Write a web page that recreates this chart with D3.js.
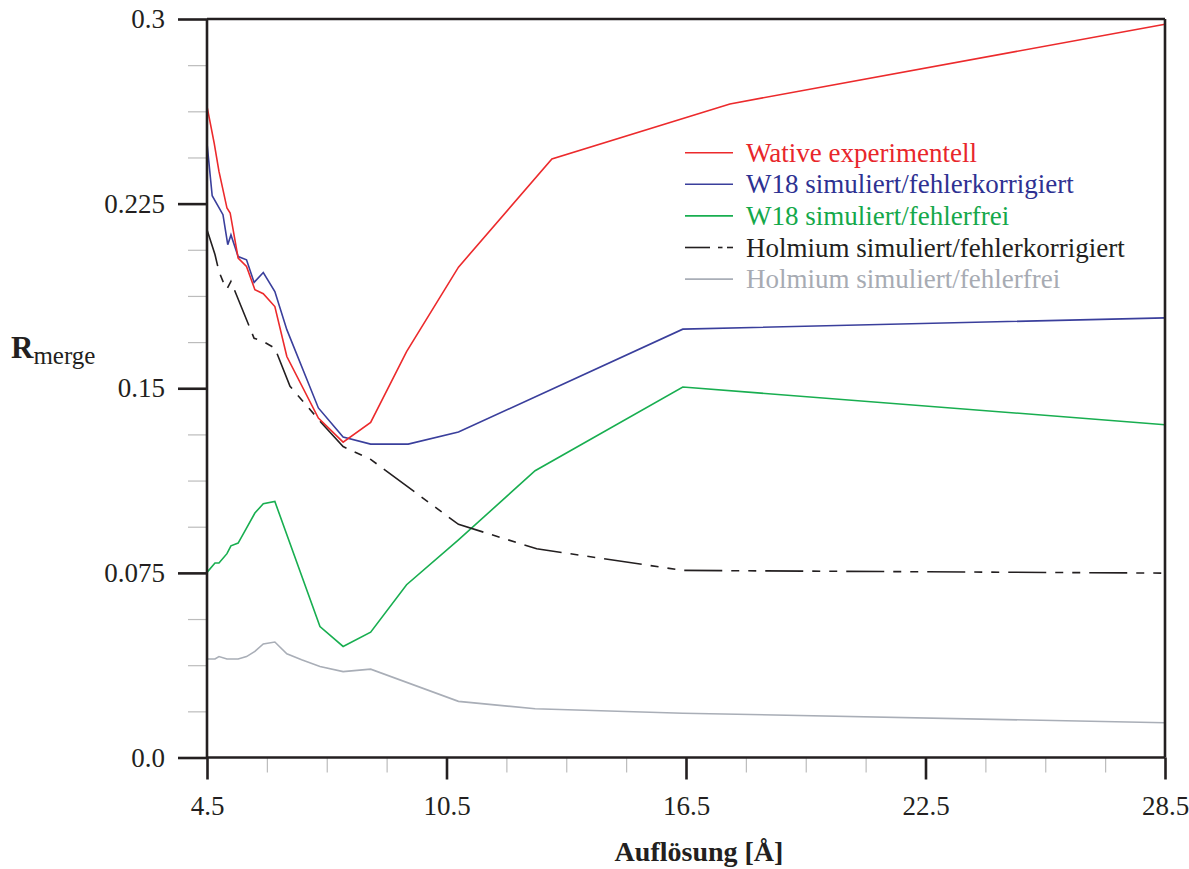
<!DOCTYPE html>
<html>
<head>
<meta charset="utf-8">
<script src="https://cdn.jsdelivr.net/npm/d3@7"></script>
<style>
  html, body { margin: 0; padding: 0; background: #fff; }
  svg { display: block; }
  text { font-family: "Liberation Serif", "Times New Roman", serif; fill: #231f20; }
</style>
</head>
<body>
<svg id="chart" width="1189" height="869"></svg>
<script>
// Rmerge against resolution shell (Å)
const wativeX = [4.5, 4.68, 4.8, 5.0, 5.08, 5.28, 5.49, 5.7, 5.91, 6.2, 6.5, 7.29, 7.91, 8.6, 9.5, 10.8, 13.14, 17.6, 28.5];
const wativeY = [0.2645, 0.2496, 0.2381, 0.2232, 0.2212, 0.2029, 0.1995, 0.1900, 0.1884, 0.1832, 0.1629, 0.1379, 0.1281, 0.1361, 0.1649, 0.1992, 0.2431, 0.2655, 0.2979];

const w18KorrX = [4.5, 4.63, 4.9, 5.02, 5.1, 5.28, 5.49, 5.68, 5.91, 6.2, 6.5, 7.29, 7.91, 8.6, 9.54, 10.8, 16.42, 28.5];
const w18KorrY = [0.2496, 0.2282, 0.2205, 0.2083, 0.2123, 0.2035, 0.2022, 0.1930, 0.1970, 0.1893, 0.1738, 0.1420, 0.1302, 0.1273, 0.1273, 0.1322, 0.1740, 0.1786];

const w18FreiX = [4.5, 4.7, 4.8, 5.0, 5.1, 5.28, 5.49, 5.7, 5.91, 6.2, 7.33, 7.91, 8.6, 9.5, 10.8, 12.72, 16.42, 28.5];
const w18FreiY = [0.0752, 0.0790, 0.0790, 0.0828, 0.0860, 0.0871, 0.0932, 0.0993, 0.1031, 0.1040, 0.0532, 0.0451, 0.0509, 0.0702, 0.0884, 0.1165, 0.1505, 0.1352];

const holKorrX = [4.5, 4.7, 4.8, 4.9, 5.0, 5.1, 5.68, 5.91, 6.2, 6.58, 7.37, 7.91, 8.6, 10.8, 12.76, 16.42, 28.5];
const holKorrY = [0.2144, 0.2043, 0.1974, 0.1934, 0.1903, 0.1934, 0.1703, 0.1690, 0.1663, 0.1508, 0.1359, 0.1263, 0.1211, 0.0947, 0.0848, 0.0760, 0.0749];

const holFreiX = [4.5, 4.7, 4.8, 5.0, 5.28, 5.49, 5.7, 5.91, 6.2, 6.5, 6.87, 7.33, 7.91, 8.6, 10.8, 12.72, 16.42, 28.5];
const holFreiY = [0.0400, 0.0400, 0.0410, 0.0400, 0.0400, 0.0410, 0.0431, 0.0461, 0.0469, 0.0421, 0.0397, 0.0370, 0.0349, 0.0359, 0.0228, 0.0198, 0.0180, 0.0141];

const seriesNames = [
  "Wative experimentell",
  "W18 simuliert/fehlerkorrigiert",
  "W18 simuliert/fehlerfrei",
  "Holmium simuliert/fehlerkorrigiert",
  "Holmium simuliert/fehlerfrei"
];

const xTickValues = [4.5, 10.5, 16.5, 22.5, 28.5];
const xTickLabels = ["4.5", "10.5", "16.5", "22.5", "28.5"];
const yTickValues = [0, 0.075, 0.15, 0.225, 0.3];
const yTickLabels = ["0.0", "0.075", "0.15", "0.225", "0.3"];
const xMinorTicks = [6, 7.5, 9, 12, 13.5, 15, 18, 19.5, 21, 24, 25.5, 27];
const yMinorTicks = [0.01875, 0.0375, 0.05625, 0.09375, 0.1125, 0.13125, 0.16875, 0.1875, 0.20625, 0.24375, 0.2625, 0.28125];

const xLabel = "Auflösung [Å]";

// ---- layout
const plotLeft = 207, plotRight = 1165, plotTop = 19, plotBottom = 757.5;

const svg = d3.select("#chart");
const x = d3.scaleLinear().domain([4.5, 28.5]).range([plotLeft, plotRight]);
const y = d3.scaleLinear().domain([0, 0.3]).range([plotBottom, plotTop]);

const series = [
  { name: seriesNames[0], xs: wativeX, ys: wativeY, color: "#ec2a2c", text: "#e8262b", dash: null },
  { name: seriesNames[1], xs: w18KorrX, ys: w18KorrY, color: "#3a3f9c", text: "#2e3192", dash: null },
  { name: seriesNames[2], xs: w18FreiX, ys: w18FreiY, color: "#18ae50", text: "#14a84a", dash: null },
  { name: seriesNames[3], xs: holKorrX, ys: holKorrY, color: "#231f20", text: "#231f20", dash: "38,9,8,9,8,9" },
  { name: seriesNames[4], xs: holFreiX, ys: holFreiY, color: "#a9aeb7", text: "#a7abb3", dash: null }
];

// ---- minor ticks (gray)
const xMinorAxis = d3.axisBottom(x).tickValues(xMinorTicks).tickSize(15).tickFormat("");
const gxm = svg.append("g").attr("transform", `translate(0,${plotBottom})`).call(xMinorAxis);
gxm.select(".domain").remove();
gxm.selectAll(".tick line").attr("stroke", "#bcbcbc").attr("stroke-width", 1.2);

const yMinorAxis = d3.axisLeft(y).tickValues(yMinorTicks).tickSize(19).tickFormat("");
const gym = svg.append("g").attr("transform", `translate(${plotLeft},0)`).call(yMinorAxis);
gym.select(".domain").remove();
gym.selectAll(".tick line").attr("stroke", "#bcbcbc").attr("stroke-width", 1.2);

// ---- data lines
const line = d3.line().x(d => x(d[0])).y(d => y(d[1]));
const lineOrder = [4, 2, 3, 1, 0];
lineOrder.forEach(i => {
  const s = series[i];
  const pts = s.xs.map((v, k) => [v, s.ys[k]]);
  svg.append("path")
    .attr("d", line(pts))
    .attr("fill", "none")
    .attr("stroke", s.color)
    .attr("stroke-width", 1.6)
    .attr("stroke-linejoin", "miter")
    .attr("stroke-dasharray", s.dash);
});

// ---- major axes
const xAxis = d3.axisBottom(x).tickValues(xTickValues).tickSize(22).tickPadding(16)
  .tickFormat((d, i) => xTickLabels[i]);
const gx = svg.append("g").attr("transform", `translate(0,${plotBottom})`).call(xAxis);
gx.select(".domain").remove();
gx.selectAll(".tick line").attr("stroke", "#231f20").attr("stroke-width", 2.6);
gx.selectAll(".tick text").attr("font-size", 27).attr("font-family", null).attr("fill", "#231f20");

const yAxis = d3.axisLeft(y).tickValues(yTickValues).tickSize(29).tickPadding(13)
  .tickFormat((d, i) => yTickLabels[i]);
const gy = svg.append("g").attr("transform", `translate(${plotLeft},0)`).call(yAxis);
gy.select(".domain").remove();
gy.selectAll(".tick line").attr("stroke", "#231f20").attr("stroke-width", 2.6);
gy.selectAll(".tick text").attr("font-size", 27).attr("font-family", null).attr("fill", "#231f20");

// frame: left axis, bottom axis, top and right border
const frame = svg.append("g").attr("stroke", "#231f20").attr("stroke-width", 2.6).attr("fill", "none");
frame.append("line").attr("x1", plotLeft).attr("x2", plotLeft).attr("y1", plotTop).attr("y2", plotBottom);
frame.append("line").attr("x1", plotLeft).attr("x2", plotRight).attr("y1", plotBottom).attr("y2", plotBottom);
frame.append("line").attr("x1", plotLeft).attr("x2", plotRight).attr("y1", plotTop).attr("y2", plotTop);
frame.append("line").attr("x1", plotRight).attr("x2", plotRight).attr("y1", plotTop).attr("y2", plotBottom);

// ---- axis titles
svg.append("text")
  .attr("x", 699).attr("y", 861)
  .attr("text-anchor", "middle")
  .attr("font-size", 28).attr("font-weight", "bold")
  .text(xLabel);

const yt = svg.append("text").attr("x", 11).attr("y", 358);
yt.append("tspan").attr("font-size", 31).attr("font-weight", "bold").text("R");
yt.append("tspan").attr("font-size", 25).attr("dy", 6).text("merge");

// ---- legend
const legend = svg.append("g");
const legY0 = 152.7, legStep = 31.6;
series.forEach((s, i) => {
  const ly = legY0 + i * legStep;
  if (s.dash) {
    legend.append("line").attr("x1", 685).attr("x2", 710).attr("y1", ly).attr("y2", ly)
      .attr("stroke", s.color).attr("stroke-width", 1.6);
    legend.append("line").attr("x1", 718).attr("x2", 722.5).attr("y1", ly).attr("y2", ly)
      .attr("stroke", s.color).attr("stroke-width", 1.6);
    legend.append("line").attr("x1", 727).attr("x2", 733).attr("y1", ly).attr("y2", ly)
      .attr("stroke", s.color).attr("stroke-width", 1.6);
  } else {
    legend.append("line").attr("x1", 685).attr("x2", 733).attr("y1", ly).attr("y2", ly)
      .attr("stroke", s.color).attr("stroke-width", 1.6);
  }
  legend.append("text")
    .attr("x", 746).attr("y", ly + 9)
    .attr("font-size", 27)
    .style("fill", s.text)
    .text(s.name);
});
</script>
</body>
</html>
